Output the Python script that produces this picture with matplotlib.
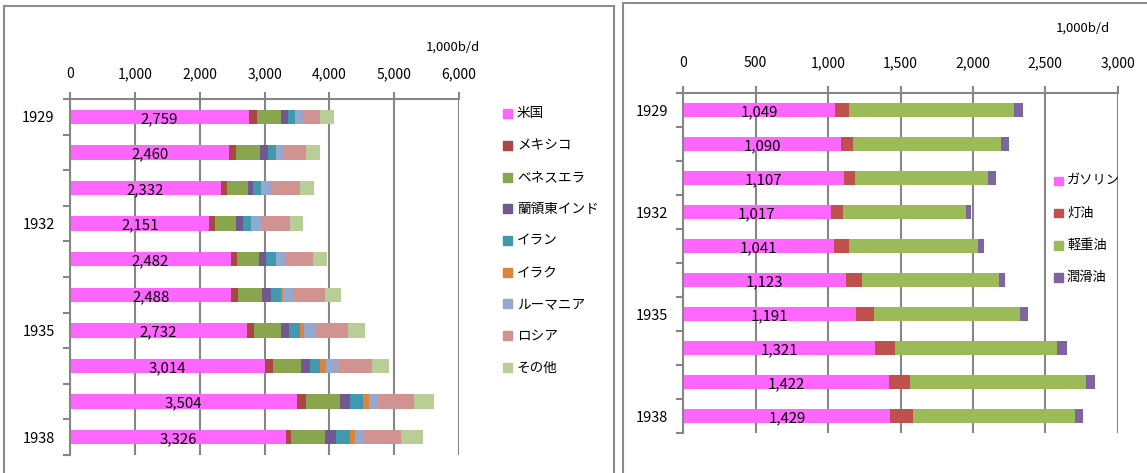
import numpy as np
import matplotlib
matplotlib.use("Agg")
import matplotlib.pyplot as plt
from matplotlib.patches import Rectangle

plt.rcParams['font.family'] = ['Noto Sans CJK JP', 'DejaVu Sans']

W, H = 1147, 473

years = [1929, 1930, 1931, 1932, 1933, 1934, 1935, 1936, 1937, 1938]
year_labels = ["1929", "", "", "1932", "", "", "1935", "", "", "1938"]

# Left chart: crude production by country (1,000 b/d)
countries = ["米国", "メキシコ", "ベネスエラ", "蘭領東インド", "イラン", "イラク", "ルーマニア", "ロシア", "その他"]
us = [2759, 2460, 2332, 2151, 2482, 2488, 2732, 3014, 3504, 3326]
mexico = [118, 97, 82, 82, 97, 108, 113, 113, 139, 82]
venezuela = [385, 380, 329, 329, 334, 365, 416, 436, 519, 519]
dutch_ei = [108, 123, 87, 108, 103, 134, 123, 144, 154, 170]
iran = [108, 123, 123, 123, 154, 154, 159, 154, 210, 216]
iraq = [0, 0, 0, 0, 0, 36, 72, 92, 92, 82]
romania = [113, 113, 149, 169, 159, 154, 169, 185, 128, 139]
russia = [262, 349, 442, 426, 426, 488, 508, 519, 560, 570]
others = [221, 210, 226, 200, 205, 257, 262, 267, 308, 339]
country_colors = ["#FF66FF", "#AA4643", "#89A54E", "#71588F", "#4198AF",
                  "#DB843D", "#93A9CF", "#D19392", "#B9CD96"]

# Right chart: US refinery products (1,000 b/d)
products = ["ガソリン", "灯油", "軽重油", "潤滑油"]
gasoline = [1049, 1090, 1107, 1017, 1041, 1123, 1191, 1321, 1422, 1429]
kerosene = [94, 85, 78, 87, 101, 108, 126, 143, 143, 154]
gas_oil = [1140, 1018, 922, 848, 890, 950, 1009, 1120, 1218, 1122]
lube = [62, 55, 55, 37, 48, 44, 55, 64, 62, 55]
product_colors = ["#FF66FF", "#C0504D", "#9BBB59", "#8064A2"]

GRID = "#868686"


def px_axes(fig, x0, x1, y0, y1):
    # pixel box (top-left origin) -> figure fraction axes
    return fig.add_axes([x0 / W, 1 - y1 / H, (x1 - x0) / W, (y1 - y0) / H])


def draw_panel(ax, segments, colors, xmax, xstep, xpad):
    y = np.arange(len(years))
    left = np.zeros(len(years))
    for vals, c in zip(segments, colors):
        ax.barh(y, vals, left=left, height=0.4, color=c, linewidth=0, zorder=2)
        left += np.array(vals)
    first = segments[0]
    for i, v in enumerate(first):
        ax.text(v / 2, i + 0.06, f"{v:,}", ha="center", va="center", fontsize=10.8, zorder=3)

    ax.set_xlim(0, xmax)
    ax.set_ylim(len(years) - 0.5, -0.5)
    xt = np.arange(0, xmax + 1, xstep)
    ax.set_xticks(xt)
    ax.set_xticklabels([f"{int(v):,}" for v in xt])
    ax.xaxis.tick_top()
    ax.tick_params(axis="x", length=5, color=GRID, width=1.5, pad=xpad, labelsize=10)
    ax.grid(axis="x", color=GRID, linewidth=1.5, zorder=0)
    ax.set_axisbelow(True)

    ax.set_yticks(y)
    ax.set_yticklabels(year_labels)
    ax.tick_params(axis="y", which="major", length=0, pad=11, labelsize=10.5)
    ax.set_yticks(np.arange(-0.5, len(years), 1), minor=True)
    ax.tick_params(axis="y", which="minor", length=5, color=GRID, width=1.5)

    for s in ["right", "bottom"]:
        ax.spines[s].set_visible(False)
    for s in ["top", "left"]:
        ax.spines[s].set_color(GRID)
        ax.spines[s].set_linewidth(1.5)


def draw_legend(fig, names, colors, sq_x, txt_x, y_first, step, size, fs):
    for i, (n, c) in enumerate(zip(names, colors)):
        yc = y_first + i * step
        fig.add_artist(Rectangle((sq_x / W, 1 - (yc + size / 2) / H), size / W, size / H,
                                 color=c, transform=fig.transFigure))
        fig.text(txt_x / W, 1 - yc / H, n, ha="left", va="center", fontsize=fs)


fig = plt.figure(figsize=(W / 100, H / 100), dpi=100)

# panel frames
fig.add_artist(Rectangle((4 / W, -0.1), 610 / W, 1.1 - 6 / H, fill=False,
                         edgecolor="#8C8C8C", linewidth=1.5, transform=fig.transFigure))
fig.add_artist(Rectangle((623 / W, -0.1), 600 / W, 1.1 - 3 / H, fill=False,
                         edgecolor="#8C8C8C", linewidth=1.5, transform=fig.transFigure))

ax1 = px_axes(fig, 70, 459, 99, 455)
draw_panel(ax1, [us, mexico, venezuela, dutch_ei, iran, iraq, romania, russia, others],
           country_colors, 6000, 1000, 8)
fig.text(453 / W, 1 - 47 / H, "1,000b/d", ha="center", va="center", fontsize=9.5)
draw_legend(fig, countries, country_colors, 503, 517, 113.5, 31.75, 9, 9.8)

ax2 = px_axes(fig, 683.3, 1117.7, 93, 433)
draw_panel(ax2, [gasoline, kerosene, gas_oil, lube], product_colors, 3000, 500, 11.5)
fig.text(1083 / W, 1 - 28 / H, "1,000b/d", ha="center", va="center", fontsize=9.5)
draw_legend(fig, products, product_colors, 1054, 1067, 181, 32.2, 8.5, 9.5)

fig.savefig("out.png", dpi=100)
